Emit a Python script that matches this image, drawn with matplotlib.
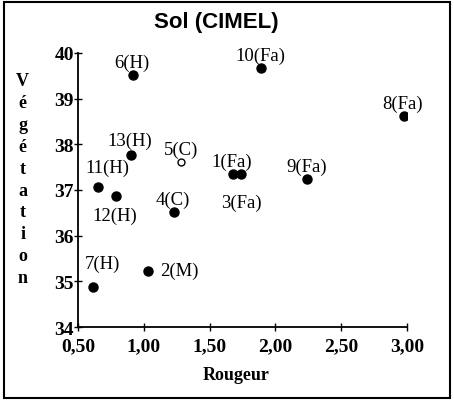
"""
Sol (CIMEL): Végétation vs Rougeur
"""

import matplotlib
matplotlib.use("Agg")
import matplotlib.pyplot as plt
from matplotlib.patches import Rectangle
from matplotlib.ticker import FuncFormatter

PLOT_FILE = "out.png"

# --- DATOS ---
labels = ["1(Fa)", "2(M)", "3(Fa)", "4(C)", "5(C)", "6(H)", "7(H)",
          "8(Fa)", "9(Fa)", "10(Fa)", "11(H)", "12(H)", "13(H)"]
rougeur = [1.68, 1.03, 1.74, 1.23, 1.28, 0.92, 0.61,
           2.98, 2.24, 1.89, 0.65, 0.79, 0.90]
vegetation = [37.35, 35.23, 37.35, 36.52, 37.61, 39.51, 34.88,
              38.62, 37.24, 39.67, 37.07, 36.87, 37.77]
open_marker = [False, False, False, False, True, False, False,
               False, False, False, False, False, False]

x_ticks = [0.5, 1.0, 1.5, 2.0, 2.5, 3.0]
y_ticks = [34, 35, 36, 37, 38, 39, 40]

# posición de cada etiqueta: (dx, dy) en puntos, ha, va
offsets = {
    "1(Fa)": (-1, 3, 'center', 'bottom'),
    "2(M)": (9, 0, 'left', 'center'),
    "3(Fa)": (0, -14, 'center', 'top'),
    "4(C)": (-1, 3, 'center', 'bottom'),
    "5(C)": (0, 3, 'center', 'bottom'),
    "6(H)": (-1, 3, 'center', 'bottom'),
    "7(H)": (7, 11, 'center', 'bottom'),
    "8(Fa)": (-1, 3, 'center', 'bottom'),
    "9(Fa)": (0, 3, 'center', 'bottom'),
    "10(Fa)": (0, 3, 'center', 'bottom'),
    "11(H)": (7, 8, 'center', 'bottom'),
    "12(H)": (-1, -8, 'center', 'top'),
    "13(H)": (-1, 4, 'center', 'bottom'),
}

serif = ["Liberation Serif", "DejaVu Serif"]

fig = plt.figure(figsize=(4.54, 4.02), dpi=100)
ax = fig.add_axes([0.172, 0.184, 0.724, 0.682])

for x, y, lab, op in zip(rougeur, vegetation, labels, open_marker):
    if op:
        ax.plot(x, y, 'o', ms=5, mfc='white', mec='black', mew=1.0)
    else:
        ax.plot(x, y, 'o', ms=6.5, color='black')
    dx, dy, ha, va = offsets[lab]
    ax.annotate(lab, (x, y), xytext=(dx, dy), textcoords='offset points',
                ha=ha, va=va, fontsize=13.5, family=serif)

ax.set_xlim(0.5, 3.0)
ax.set_ylim(34, 40)
ax.set_xticks(x_ticks)
ax.set_yticks(y_ticks)
ax.xaxis.set_major_formatter(FuncFormatter(lambda v, p: f"{v:.2f}".replace(".", ",")))
ax.tick_params(direction='inout', length=6, width=1, pad=0)
ax.tick_params(axis='x', pad=4)
for t in ax.get_xticklabels() + ax.get_yticklabels():
    t.set_fontfamily(serif)
    t.set_fontsize(14)
    t.set_fontweight('bold')

for s in ['top', 'right']:
    ax.spines[s].set_visible(False)
for s in ['left', 'bottom']:
    ax.spines[s].set_linewidth(1.3)

fig.text(0.477, 0.945, "Sol (CIMEL)", ha='center', va='center',
         fontsize=16, fontweight='bold', family='Liberation Sans')
fig.text(0.52, 0.067, "Rougeur", ha='center', va='center',
         fontsize=13, fontweight='bold', family=serif)
fig.text(0.05, 0.552, "\n".join("Végétation"), ha='center', va='center',
         fontsize=13, fontweight='bold', family=serif, linespacing=1.37)

fig.patches.append(Rectangle((0.008, 0.008), 0.984, 0.984, transform=fig.transFigure,
                             fill=False, ec='black', lw=1.5))

fig.savefig(PLOT_FILE, dpi=100)
